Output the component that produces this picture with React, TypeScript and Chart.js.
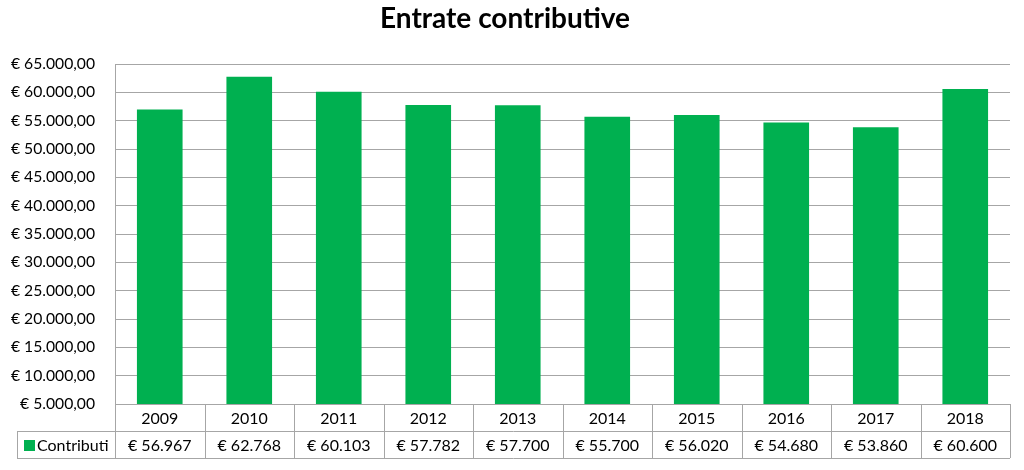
import React, { useEffect, useRef } from "react";
import { Chart, registerables } from "chart.js";

Chart.register(...registerables);

const titleText = "Entrate contributive";
const categories = ["2009", "2010", "2011", "2012", "2013", "2014", "2015", "2016", "2017", "2018"];
const seriesName = "Contributi";
const values = [56967, 62768, 60103, 57782, 57700, 55700, 56020, 54680, 53860, 60600];
const yMin = 5000;
const yMax = 65000;
const yStep = 5000;

const FONT = "Lato, 'Open Sans', sans-serif";
const GREEN = "#00B050";
const LINE = "#a6a6a6";

function group(n: number): string {
  const s = Math.round(n).toString();
  return s.replace(/\B(?=(\d{3})+(?!\d))/g, ".");
}

const tablePlugin = {
  id: "dataTable",
  afterDraw(chart: any) {
    const { ctx, chartArea } = chart;
    const left = chartArea.left;
    const right = chartArea.right;
    const top = chartArea.bottom;
    const rowH = 27;
    const r1 = top + rowH;
    const r2 = top + 2 * rowH;
    const tableLeft = 17;
    const n = categories.length;
    const cw = (right - left) / n;
    const px = (v: number) => Math.round(v) + 0.5;

    ctx.save();
    ctx.strokeStyle = LINE;
    ctx.lineWidth = 1;
    ctx.beginPath();
    ctx.moveTo(left, px(top));
    ctx.lineTo(right, px(top));
    ctx.moveTo(tableLeft, px(r1));
    ctx.lineTo(right, px(r1));
    ctx.moveTo(tableLeft, px(r2));
    ctx.lineTo(right, px(r2));
    for (let i = 0; i <= n; i++) {
      const xb = px(left + i * cw);
      ctx.moveTo(xb, top);
      ctx.lineTo(xb, r2);
    }
    ctx.moveTo(px(tableLeft), r1);
    ctx.lineTo(px(tableLeft), r2);
    ctx.stroke();

    ctx.fillStyle = "#000";
    ctx.font = `16px ${FONT}`;
    ctx.textAlign = "center";
    ctx.textBaseline = "middle";
    const xs = chart.scales.x;
    for (let i = 0; i < n; i++) {
      const cx = xs.getPixelForValue(i);
      ctx.fillText(categories[i], cx, top + rowH / 2 + 1);
      ctx.fillText("€ " + group(values[i]), cx, r1 + rowH / 2 + 1);
    }
    ctx.fillStyle = GREEN;
    ctx.fillRect(24, r1 + 9, 11, 11);
    ctx.fillStyle = "#000";
    ctx.textAlign = "left";
    ctx.fillText(seriesName, 37, r1 + rowH / 2 + 1);
    ctx.restore();
  },
};

export default function App() {
  const ref = useRef<HTMLCanvasElement | null>(null);
  useEffect(() => {
    if (!ref.current) return;
    const chart = new Chart(ref.current, {
      type: "bar",
      data: {
        labels: categories,
        datasets: [
          {
            label: seriesName,
            data: values,
            backgroundColor: GREEN,
            borderWidth: 0,
            barPercentage: 0.51,
            categoryPercentage: 1,
          },
        ],
      },
      options: {
        responsive: false,
        animation: false,
        devicePixelRatio: 1,
        layout: { padding: { left: 0, right: 14, top: 0, bottom: 66 } },
        plugins: {
          legend: { display: false },
          tooltip: { enabled: false },
          title: {
            display: true,
            text: titleText,
            color: "#000",
            font: { family: FONT, size: 28, weight: "bold" },
            padding: { top: 2, bottom: 28.4 },
          },
        },
        scales: {
          x: { display: false },
          y: {
            min: yMin,
            max: yMax,
            afterFit: (s: any) => {
              s.width = 115;
            },
            ticks: {
              stepSize: yStep,
              padding: 20,
              color: "#000",
              font: { family: FONT, size: 15.7 },
              callback: (v: any) => "€ " + group(Number(v)) + ",00",
            },
            grid: { color: LINE, drawTicks: false },
            border: { display: true, color: LINE },
          },
        },
      },
      plugins: [tablePlugin],
    });
    return () => chart.destroy();
  }, []);
  return (
    <div style={{ position: "absolute", left: 0, top: 0, width: 1024, height: 470, background: "#fff" }}>
      <canvas ref={ref} width={1024} height={470} />
    </div>
  );
}
